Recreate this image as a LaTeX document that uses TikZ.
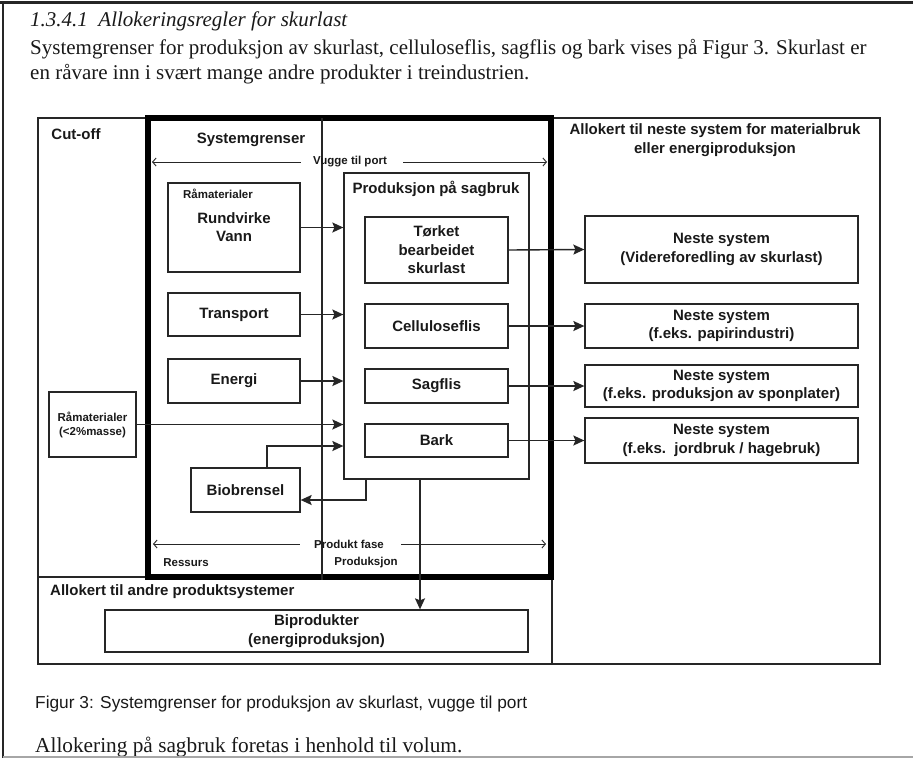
\documentclass[tikz,border=0pt]{standalone}
\usepackage{fontspec}
\setmainfont{Liberation Serif}
\newfontfamily\arial{Liberation Sans}
\usetikzlibrary{arrows.meta,calc}
\begin{document}
\begin{tikzpicture}[x=1pt,y=-1pt,
  bx/.style={draw=black!85, line width=1.3pt, inner sep=0pt},
  lbl/.style={font=\arial\bfseries\fontsize{15}{18.5}\selectfont, align=center, text=black!90, inner sep=0pt},
  sm/.style={font=\arial\bfseries\fontsize{11.5}{14}\selectfont, align=center, text=black!90, inner sep=0pt},
  arr/.style={draw=black!85, line width=1.4pt, -{Stealth[length=11pt,width=10pt,inset=2pt]}},
  tarr/.style={draw=black!85, line width=0.9pt, -{Straight Barb[length=3.5pt,width=8pt]}},
  ln/.style={draw=black!85, line width=1.3pt},
  body/.style={anchor=base west, inner sep=0pt, text=black!90, font=\fontsize{21}{25}\selectfont},
]
\useasboundingbox (0,0) rectangle (913,758);
% page frame
\draw[line width=3pt, black!85] (0,2.5) -- (913,2.5);
\draw[line width=2pt, black!85] (3,1) -- (3,758);

% header text
\node[body, font=\itshape\fontsize{21}{22}\selectfont] (h1) at (30,26) {1.3.4.1\ \ Allokeringsregler for skurlast};
\node[body] (h2) at (30,54) {Systemgrenser for produksjon av skurlast, celluloseflis, sagflis og bark vises på Figur 3. Skurlast er};
\node[body] (h3) at (30,79) {en råvare inn i svært mange andre produkter i treindustrien.};

% regions
\node[bx, minimum width=110pt, minimum height=459pt] (cut) at (93,347.5) {};
\node[bx, minimum width=514pt, minimum height=87pt] (andre) at (295,620.5) {};
\node[bx, minimum width=328pt, minimum height=546pt] (neste) at (716,391) {};
\node[draw=black, line width=6pt, inner sep=0pt, minimum width=403pt, minimum height=459pt] (sys) at (349.5,347.5) {};
\coordinate (dv) at (322,118);
\draw[ln] (dv) -- (dv |- sys.south);

% region labels
\node[lbl] (lcut) at (76,134) {Cut-off};
\node[lbl] (lsys) at (251,140) {Systemgrenser};
\node[lbl] (lnes) at (715,140) {Allokert til neste system for materialbruk\\eller energiproduksjon};
\node[lbl, anchor=west] (land) at (50,592) {Allokert til andre produktsystemer};

% vugge til port
\node[sm] (vt) at (350,162) {Vugge til port};
\coordinate (vl) at (152,162);
\coordinate (vr) at (547,162);
\draw[tarr] ([xshift=-12pt]vt.west) -- (vl);
\draw[tarr] ([xshift=16pt]vt.east) -- (vr);

% produkt fase
\node[sm] (pf) at (349,544) {Produkt fase};
\coordinate (pl) at (153,544);
\coordinate (pr) at (546,544);
\draw[tarr] ([xshift=-14pt]pf.west) -- (pl);
\draw[tarr] ([xshift=17pt]pf.east) -- (pr);
\node[sm] (res) at (186,563) {Ressurs};
\node[sm] (prd) at (366,563) {Produksjon};

% input boxes
\node[bx, minimum width=132pt, minimum height=89pt] (rm) at (234,227.5) {};
\node[sm] (rmt) at (218,194) {Råmaterialer};
\node[lbl] (rmv) at (234,227) {Rundvirke\\Vann};
\node[bx, lbl, minimum width=132pt, minimum height=43pt] (tr) at (234,314.5) {Transport};
\node[bx, lbl, minimum width=132pt, minimum height=44pt] (en) at (234,381) {Energi};
\node[bx, sm, minimum width=87pt, minimum height=65pt] (rm2) at (92.5,424.5) {Råmaterialer\\(<2\%masse)};
\node[bx, lbl, minimum width=109pt, minimum height=44pt] (bio) at (245.5,490) {Biobrensel};

% production
\node[bx, minimum width=185pt, minimum height=306pt] (prod) at (436.5,326) {};
\node[lbl] (lprod) at (436,189) {Produksjon på sagbruk};
\node[bx, lbl, minimum width=143pt, minimum height=66pt] (tk) at (436.5,250) {Tørket\\bearbeidet\\skurlast};
\node[bx, lbl, minimum width=143pt, minimum height=44pt] (ce) at (436.5,326) {Celluloseflis};
\node[bx, lbl, minimum width=143pt, minimum height=34pt] (sa) at (436.5,386) {Sagflis};
\node[bx, lbl, minimum width=143pt, minimum height=33pt] (ba) at (436.5,440.5) {Bark};

% next systems
\node[bx, lbl, minimum width=273pt, minimum height=67pt] (n1) at (721.5,249.5) {Neste system\\(Videreforedling av skurlast)};
\node[bx, lbl, minimum width=273pt, minimum height=44pt] (n2) at (721.5,326) {Neste system\\(f.eks. papirindustri)};
\node[bx, lbl, minimum width=273pt, minimum height=42pt] (n3) at (721.5,386) {Neste system\\(f.eks. produksjon av sponplater)};
\node[bx, lbl, minimum width=273pt, minimum height=45pt] (n4) at (721.5,440.5) {Neste system\\(f.eks.\ \ jordbruk / hagebruk)};

% by-products
\node[bx, lbl, minimum width=423pt, minimum height=42pt, font=\arial\bfseries\fontsize{15}{19.5}\selectfont] (bp) at (316.5,631) {Biprodukter\\(energiproduksjon)};

% arrows
\draw[arr] (rm.east) -- (rm.east -| prod.west);
\draw[arr] (tr.east) -- (tr.east -| prod.west);
\draw[arr] (en.east) -- (en.east -| prod.west);
\draw[arr] (rm2.east) -- (rm2.east -| prod.west);
\draw[arr] ([xshift=21.5pt]bio.north) |- ([yshift=-120pt]prod.west);
\draw[arr] ([xshift=-70.5pt]prod.south) |- ([yshift=-10pt]bio.east);
\draw[arr] ([xshift=-16.5pt]prod.south) -- ([xshift=-16.5pt]prod.south |- bp.north);
\draw[arr] (tk.east) -- (n1.west);
\draw[arr] (ce.east) -- (n2.west);
\draw[arr] (sa.east) -- (n3.west);
\draw[arr] (ba.east) -- (n4.west);

% caption and closing text
\node[body, font=\arial\fontsize{17.3}{20}\selectfont] (cap) at (35,708) {Figur 3: Systemgrenser for produksjon av skurlast, vugge til port};
\node[body, font=\fontsize{21.3}{24}\selectfont] (last) at (35,752) {Allokering på sagbruk foretas i henhold til volum.};
\draw[line width=2pt, black!35] (3,756.5) -- (913,756.5);
\end{tikzpicture}
\end{document}
